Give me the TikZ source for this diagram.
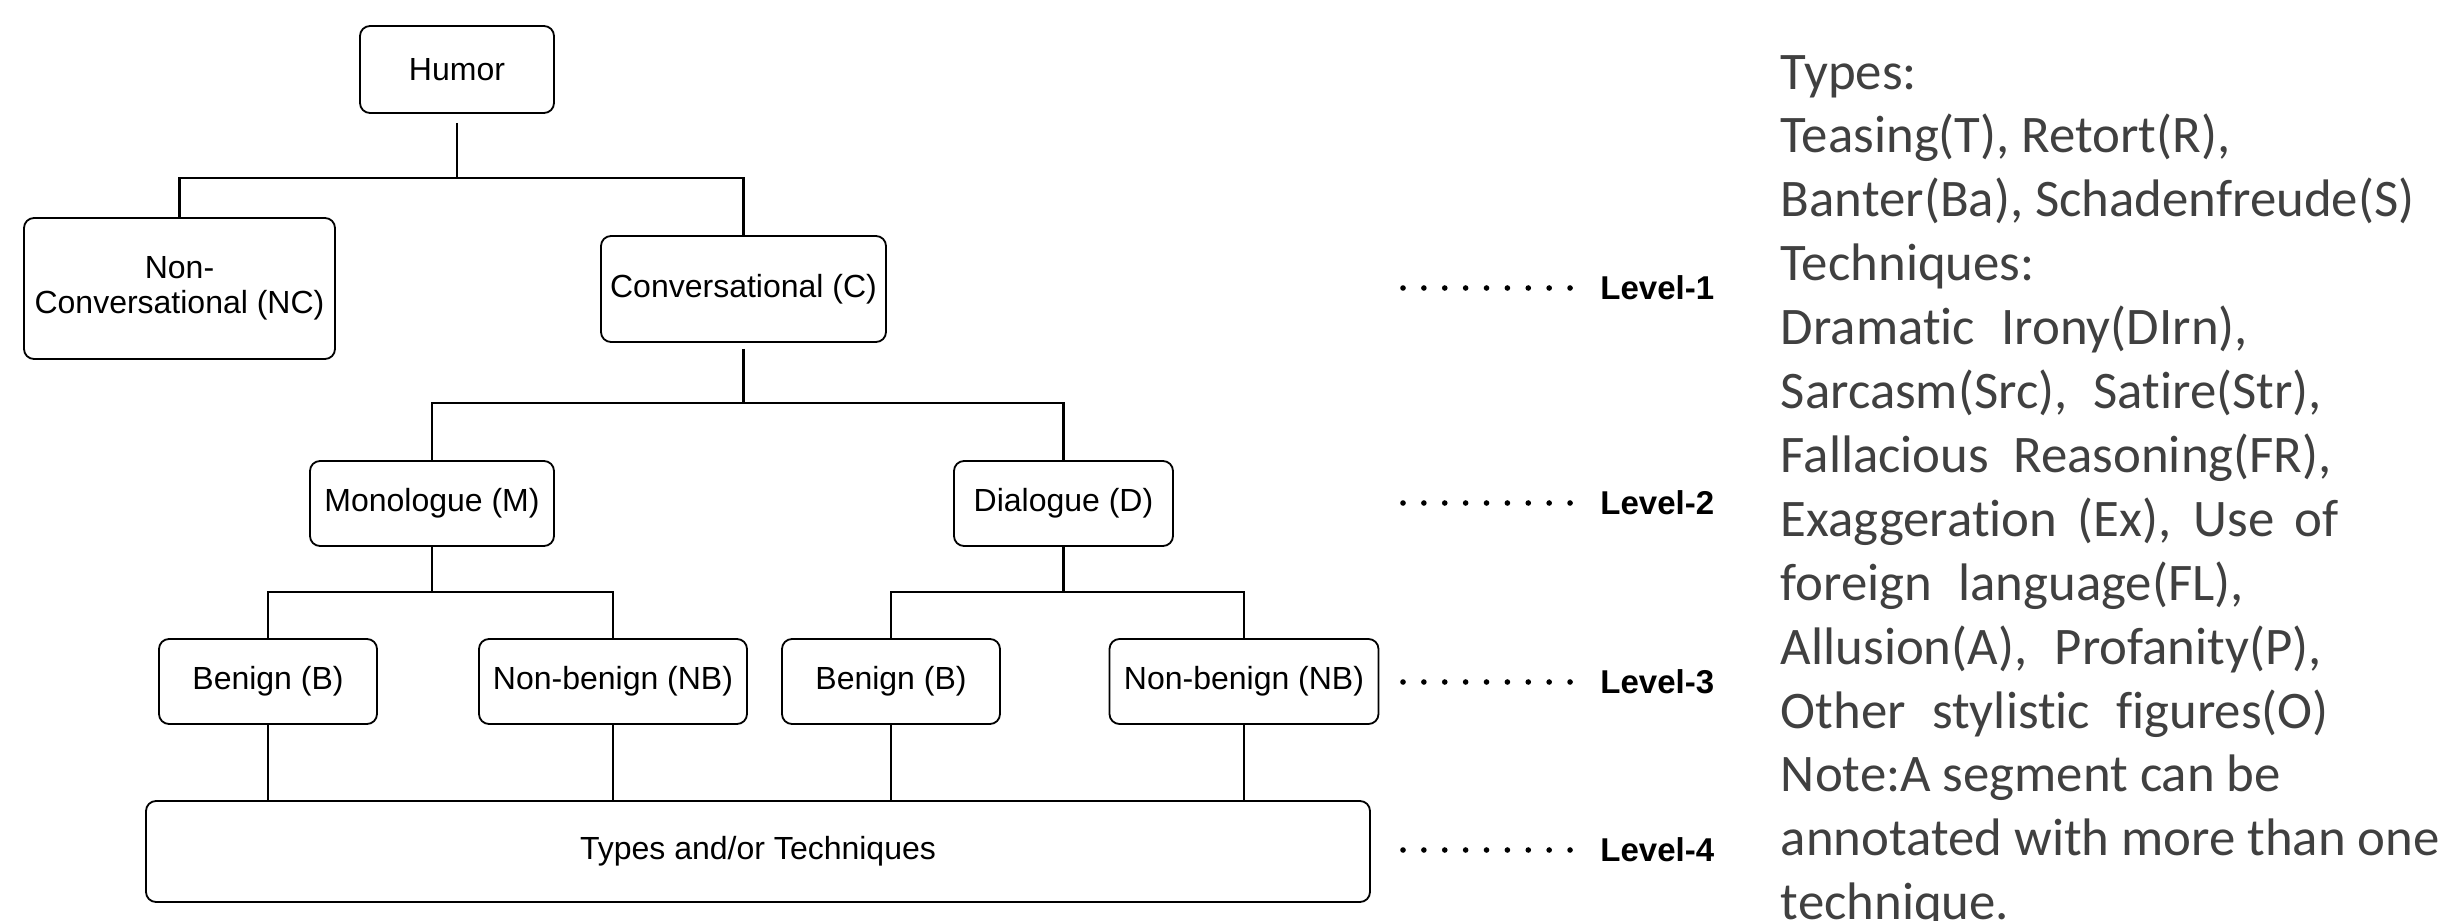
\documentclass[tikz,border=0pt]{standalone}
\usepackage{fontspec}
\setmainfont{Liberation Sans}
\newfontfamily\calib[Ligatures={NoCommon,NoRare,NoContextual}]{Carlito}
\definecolor{legendgrey}{HTML}{404040}
\newcommand{\nt}{t\kern0pt }
\begin{document}
\begin{tikzpicture}[x=0.5pt,y=-0.5pt,
  box/.style={draw=black,line width=0.9pt,rounded corners=5pt,inner sep=0pt,align=center,font=\fontsize{16}{17.5}\selectfont},
  tree/.style={line width=1.4pt},
  lvl/.style={font=\fontsize{16.5}{19}\selectfont\bfseries,anchor=west,inner sep=0pt},
  dotrow/.style={line width=2.8pt,line cap=round,dash pattern=on 0pt off 10.44pt},
  legend/.style={font=\calib\fontsize{26.4}{32}\selectfont,text=legendgrey,anchor=base west,inner sep=0pt}]
\useasboundingbox (0,0) rectangle (2453,921);

% boxes
\node[box,minimum width=97pt,minimum height=43.5pt] (humor) at (457,69.5) {Humor};
\node[box,minimum width=155.5pt,minimum height=70.5pt] (nc) at (179.5,288.5) {Non-\\Conversational (NC)};
\node[box,minimum width=142.5pt,minimum height=53pt] (conv) at (743.5,289) {Conversational (C)};
\node[box,minimum width=122pt,minimum height=42.5pt] (mono) at (432,503.5) {Monologue (M)};
\node[box,minimum width=109.5pt,minimum height=42.5pt] (dial) at (1063.5,503.5) {Dialogue (D)};
\node[box,minimum width=109pt,minimum height=42.5pt] (bl) at (268,681.5) {Benign (B)};
\node[box,minimum width=134pt,minimum height=42.5pt] (nbl) at (613,681.5) {Non-benign (NB)};
\node[box,minimum width=109pt,minimum height=42.5pt] (br) at (891,681.5) {Benign (B)};
\node[box,minimum width=134.5pt,minimum height=42.5pt] (nbr) at (1244,681.5) {Non-benign (NB)};
\node[box,minimum width=612pt,minimum height=50.5pt] (types) at (758,851.5) {Types and/or Techniques};

% junctions
\coordinate (j1) at (457,178);
\coordinate (j2) at (743.5,403);
\coordinate (j3) at (432,592);
\coordinate (j4) at (1063.5,592);

% tree connectors
\draw[tree,shorten <=4.5pt] (humor.south) -- (j1);
\draw[tree] (nc.north) |- (j1) -| (conv.north);
\draw[tree,shorten <=3pt] (conv.south) -- (j2);
\draw[tree] (mono.north) |- (j2) -| (dial.north);
\draw[tree] (mono.south) -- (j3);
\draw[tree] (bl.north) |- (j3) -| (nbl.north);
\draw[tree] (dial.south) -- (j4);
\draw[tree] (br.north) |- (j4) -| (nbr.north);
\draw[tree] (bl.south) -- (bl.south |- types.north);
\draw[tree] (nbl.south) -- (nbl.south |- types.north);
\draw[tree] (br.south) -- (br.south |- types.north);
\draw[tree] (nbr.south) -- (nbr.south |- types.north);

% level labels
\node[lvl] (lv1) at (1600,287.5) {Level-1};
\node[lvl] (lv2) at (1600,503) {Level-2};
\node[lvl] (lv3) at (1600,682) {Level-3};
\node[lvl] (lv4) at (1600,850) {Level-4};
\coordinate (d1) at (1403,288);
\coordinate (d2) at (1403,503);
\coordinate (d3) at (1403,682);
\coordinate (d4) at (1403,850);
\foreach \d in {d1,d2,d3,d4}{
  \draw[dotrow] (\d) -- ++(168,0);
}

% legend text
\foreach \t [count=\i] in {
  {Types:},
  {Teasing(T), Retort(R),},
  {Banter(Ba), Schadenfreude(S)},
  {Techniques:},
  {\makebox[233.5pt][s]{Drama\nt ic Irony(DIrn),}},
  {\makebox[270.5pt][s]{Sarcasm(Src), Sa\nt ire(Str),}},
  {\makebox[275.5pt][s]{Fallacious Reasoning(FR),}},
  {\makebox[279pt][s]{Exaggera\nt ion (Ex), Use of}},
  {\makebox[231.5pt][s]{foreign language(FL),}},
  {\makebox[270.5pt][s]{Allusion(A), Profanity(P),}},
  {\makebox[274pt][s]{Other stylis\nt ic figures(O)}},
  {Note:A segment can be},
  {annotated with more than one},
  {technique.}}{
  \node[legend] (leg\i) at (1780.5,{89+63.9*(\i-1)}) {\t};
}
\end{tikzpicture}
\end{document}
